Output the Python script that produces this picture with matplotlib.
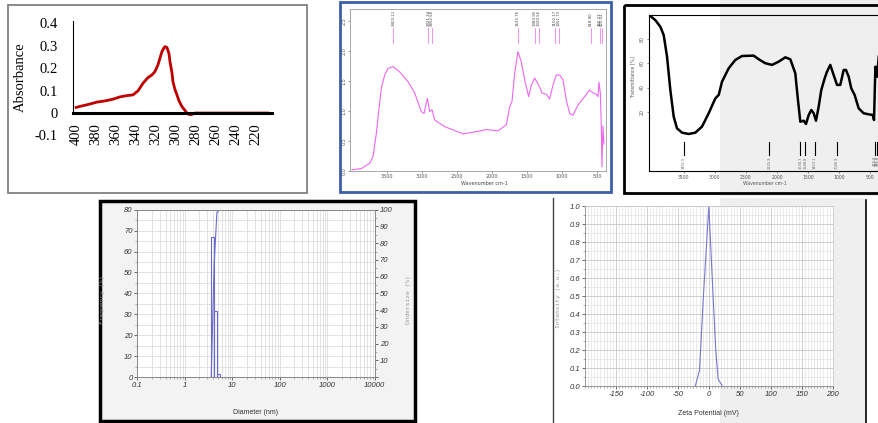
import matplotlib
matplotlib.use('Agg')
import matplotlib.pyplot as plt
import matplotlib.patches as patches
import numpy as np

W, H = 879, 423

# UV-vis absorbance (panel 1)
uv_nm = [400, 395, 389, 384, 379, 374, 369, 363, 356, 350, 343, 338, 333, 328, 324, 321,
         318, 316, 314, 312, 311, 309, 307, 306, 304, 303, 301, 299, 297, 294, 291, 289,
         287, 285, 283, 281, 275, 260, 240, 220, 208]
uv_abs = [0.025, 0.031, 0.037, 0.043, 0.049, 0.052, 0.056, 0.062, 0.072, 0.077, 0.081,
          0.099, 0.133, 0.158, 0.170, 0.185, 0.215, 0.245, 0.274, 0.290, 0.296, 0.292,
          0.265, 0.229, 0.180, 0.140, 0.105, 0.081, 0.055, 0.029, 0.012, 0.0, -0.006,
          -0.008, -0.004, 0.0, 0.0, 0.0, 0.0, 0.0, 0.0]
uv_xticks = [400, 380, 360, 340, 320, 300, 280, 260, 240, 220]
uv_yticks = [0.4, 0.3, 0.2, 0.1, 0, -0.1]
uv_ylabels = ['0.4', '0.3', '0.2', '0.1', '0', '-0.1']

# FTIR absorbance (panel 2)
ir_wn = [4000, 3867, 3747, 3700, 3652, 3628, 3581, 3533, 3486, 3414, 3319, 3200, 3105,
         3010, 2971, 2924, 2890, 2857, 2819, 2676, 2414, 2200, 2081, 1914, 1795, 1748,
         1714, 1676, 1629, 1581, 1533, 1476, 1438, 1390, 1357, 1319, 1286, 1224, 1176,
         1129, 1081, 1033, 986, 938, 890, 843, 771, 676, 605, 557, 510, 486, 471, 452,
         438, 429, 414, 400]
ir_abs = [0.02, 0.04, 0.13, 0.24, 0.63, 0.90, 1.38, 1.60, 1.71, 1.74, 1.65, 1.49, 1.30,
          0.99, 0.96, 1.21, 0.99, 1.02, 0.85, 0.74, 0.62, 0.66, 0.69, 0.67, 0.77, 1.07,
          1.16, 1.63, 1.99, 1.82, 1.52, 1.24, 1.43, 1.55, 1.48, 1.40, 1.30, 1.28, 1.20,
          1.43, 1.60, 1.60, 1.52, 1.18, 0.96, 0.93, 1.10, 1.24, 1.35, 1.30, 1.28, 1.24,
          1.48, 1.30, 0.75, 0.07, 0.75, 0.45]
ir_peaks = [3410, 2910, 2861, 1630, 1386, 1329, 1100, 1043, 590, 457, 433]
ir_peak_labels = ['3400.11', '2921.34', '2852.58', '1633.76', '1384.95', '1320.56',
                  '1102.17', '1051.73', '618.90', '460.77', '425.02']

# FTIR transmittance (panel 3)
tr_wn = [4053, 3957, 3876, 3822, 3768, 3715, 3661, 3608, 3527, 3420, 3313, 3206, 3098,
         2992, 2937, 2884, 2777, 2670, 2563, 2375, 2294, 2188, 2080, 1973, 1866, 1786,
         1706, 1663, 1625, 1571, 1534, 1490, 1448, 1410, 1373, 1330, 1288, 1233, 1196,
         1143, 1089, 1035, 982, 928, 891, 847, 806, 752, 687, 607, 526, 461, 440, 418,
         391, 364]
tr_val = [100, 96, 90.5, 83.6, 65.6, 38, 15.9, 6.2, 2.6, 1.5, 2.6, 7.6, 18.7, 31, 33.9,
          44.9, 56, 62.9, 66.2, 66.5, 63.5, 60.2, 58.8, 61.5, 65.1, 63.5, 51.9, 29.7, 11.7,
          12.5, 9.8, 17.3, 21.4, 18.7, 12.5, 24.1, 38, 47.7, 53.2, 58.8, 50.4, 42.2, 42.2,
          54.6, 54.6, 49, 39.4, 33.9, 22.8, 18.7, 17.8, 17.3, 13.1, 57.3, 49, 65.6]
tr_peaks = [3495, 2124, 1625, 1545, 1394, 1040, 420, 397, 381]
tr_peak_labels = ['3451.5', '2125.9', '1630.3', '1548.8', '1403.1', '1046.9',
                  '419.9', '397.2', '381.0']

# particle size distribution (panel 4)
ps_edges = [3.6, 4.15, 4.75, 5.4]
ps_freq = [66.8, 31.7, 1.6]
ps_cum_x = [3.6, 4.15, 4.75, 5.4, 10000]
ps_cum_y = [0, 66.8, 98.4, 100, 100]

# zeta potential (panel 5)
z_mv = [-22, -15, -9, 0, 7, 11, 15, 22]
z_int = [0, 0.09, 0.49, 1.0, 0.49, 0.21, 0.04, 0]

fig = plt.figure(figsize=(W / 100, H / 100), dpi=100)


def px_axes(l, t, r, b, **kw):
    return fig.add_axes([l / W, 1 - b / H, (r - l) / W, (b - t) / H], **kw)


# background, frames and grey patches in pixel coordinates
bg = fig.add_axes([0, 0, 1, 1], zorder=0)
bg.set_xlim(0, W)
bg.set_ylim(H, 0)
bg.axis('off')
bg.add_patch(patches.Rectangle((720, 0), 160, 196, color='#efefef', lw=0))
bg.add_patch(patches.Rectangle((720, 198), 145, 225, color='#efefef', lw=0))
bg.add_patch(patches.Rectangle((8, 5), 299, 188, fill=False, ec='#777777', lw=1.2))
bg.add_patch(patches.Rectangle((340, 2), 271, 190, fill=False, ec='#3d5ea8', lw=2))
bg.add_patch(patches.Rectangle((624, 5), 262, 188, fill=False, ec='black', lw=2))
bg.add_patch(patches.Rectangle((100, 201), 315, 220, fc='#f3f3f3', ec='black', lw=2.5))
bg.plot([552.7, 552.7], [198, 423], color='#444444', lw=1)
bg.plot([866, 866], [200, 423], color='black', lw=1.2)

# ---- panel 1: UV-vis ----
serif = 'Liberation Serif'
ax1 = px_axes(72.7, 21, 271.7, 135.5, zorder=2)
ax1.plot(uv_nm, uv_abs, color='#c00000', lw=2)
ax1.set_xlim(403.5, 204)
ax1.set_ylim(-0.1, 0.41)
ax1.spines[['top', 'right']].set_visible(False)
ax1.spines['bottom'].set_position(('data', 0))
ax1.spines['bottom'].set_linewidth(2.2)
ax1.spines['left'].set_bounds(0, 0.41)
ax1.set_yticks(uv_yticks)
ax1.set_yticklabels(uv_ylabels, fontfamily=serif, fontsize=10.5)
ax1.set_xticks(uv_xticks)
ax1.set_xticklabels([str(v) for v in uv_xticks], rotation=90, fontfamily=serif, fontsize=10.5)
ax1.tick_params(length=0)
ax1.tick_params(axis='y', pad=11)
ax1.tick_params(axis='x', pad=7)
ax1.set_ylabel('Absorbance', fontfamily=serif, fontsize=10.5)
ax1.yaxis.set_label_coords(-0.231, 0.51)

# ---- panel 2: FTIR absorbance ----
pink = '#ee66ee'
ax2 = px_axes(350, 9, 606, 171, zorder=2)
ax2.plot(ir_wn, ir_abs, color=pink, lw=0.8)
ax2.set_xlim(4029, 371)
ax2.set_ylim(0, 2.7)
for s in ax2.spines.values():
    s.set_color('#999999')
    s.set_linewidth(0.6)
ax2.set_xticks([3500, 3000, 2500, 2000, 1500, 1000, 500])
ax2.set_yticks([0, 0.5, 1.0, 1.5, 2.0, 2.5])
ax2.set_yticklabels(['0.0', '0.5', '1.0', '1.5', '2.0', '2.5'], rotation=90, va='center')
ax2.tick_params(labelsize=3.5, length=1.5, width=0.4, colors='#555555', pad=1)
ax2.set_xlabel('Wavenumber cm-1', fontsize=3.5, color='#444444')
ax2.xaxis.set_label_coords(0.523, -0.06)
for wn, lab in zip(ir_peaks, ir_peak_labels):
    ax2.plot([wn, wn], [2.13, 2.38], color=pink, lw=0.5)
    ax2.text(wn, 2.41, lab, rotation=90, fontsize=2.8, ha='center', va='bottom', color='#444444')

# ---- panel 3: FTIR transmittance ----
ax3 = px_axes(649, 15, 890, 171, zorder=2)
ax3.patch.set_alpha(0)
ax3.plot(tr_wn, tr_val, color='black', lw=1.8)
ax3.set_xlim(4058, 183)
ax3.set_ylim(-29.2, 100.2)
ax3.spines['right'].set_visible(False)
ax3.set_xticks([3500, 3000, 2500, 2000, 1500, 1000, 500])
ax3.set_yticks([20, 40, 60, 80])
ax3.set_yticklabels(['20', '40', '60', '80'], rotation=90, va='center')
ax3.tick_params(labelsize=3.3, length=1.5, width=0.5, colors='#555555', pad=1.5)
ax3.set_xlabel('Wavenumber cm-1', fontsize=3.3, color='#555555')
ax3.xaxis.set_label_coords(0.481, -0.065)
ax3.set_ylabel('Transmittance [%]', fontsize=3.3, color='#555555')
ax3.yaxis.set_label_coords(-0.058, 0.6)
for wn, lab in zip(tr_peaks, tr_peak_labels):
    ax3.plot([wn, wn], [-4.9, -15.9], color='black', lw=0.8)
    ax3.text(wn, -17, lab, rotation=90, fontsize=2.5, ha='center', va='top', color='#666666')

# ---- panel 4: particle size ----
blue = '#6a6acc'
tick_font = dict(fontfamily='Liberation Sans', style='italic', fontsize=5.5)
ax4 = px_axes(137.3, 209.7, 374.7, 377, zorder=2)
ax4.set_xscale('log')
ax4.set_xlim(0.1, 10000)
ax4.set_ylim(0, 80)
ax4.set_yticks(np.arange(0, 81, 10))
ax4.set_yticks(np.arange(0, 81, 5), minor=True)
ax4.grid(which='both', color='#d8d8d8', lw=0.5)
ax4.set_axisbelow(True)
ax4.bar(ps_edges[:-1], ps_freq, width=np.diff(ps_edges), align='edge',
        fill=False, edgecolor=blue, lw=0.8)
for s in ax4.spines.values():
    s.set_color('#888888')
    s.set_linewidth(0.6)
ax4.set_xticks([0.1, 1, 10, 100, 1000, 10000])
ax4.set_xticklabels(['0.1', '1', '10', '100', '1000', '10000'], **tick_font)
ax4.set_yticklabels([str(v) for v in range(0, 81, 10)], **tick_font)
ax4.tick_params(which='major', length=2.5, width=0.5, colors='#333333', pad=1)
ax4.tick_params(which='minor', length=1.2, width=0.4, colors='#777777')
ax4.set_xlabel('Diameter (nm)', fontfamily='Liberation Sans', fontsize=5, color='#333333')
ax4.xaxis.set_label_coords(0.5, -0.19)
ax4.set_ylabel('Frequency (%)', fontfamily='DejaVu Sans Mono', fontsize=4.5, color='#999999')
ax4.yaxis.set_label_coords(-0.137, 0.46)
ax4r = ax4.twinx()
ax4r.set_zorder(3)
ax4r.set_ylim(0, 100)
ax4r.plot(ps_cum_x, ps_cum_y, color=blue, lw=0.8)
ax4r.set_yticks(np.arange(0, 101, 10))
ax4r.set_yticks(np.arange(0, 101, 5), minor=True)
ax4r.set_yticklabels([''] + [str(v) for v in range(10, 101, 10)], **tick_font)
ax4r.tick_params(which='major', length=2.5, width=0.5, colors='#333333', pad=1)
ax4r.tick_params(which='minor', length=1.2, width=0.4, colors='#777777')
for s in ax4r.spines.values():
    s.set_color('#888888')
    s.set_linewidth(0.6)
ax4r.set_ylabel('Undersize (%)', fontfamily='DejaVu Sans Mono', fontsize=4.5, color='#999999')
ax4r.yaxis.set_label_coords(1.133, 0.46)

# ---- panel 5: zeta potential ----
ax5 = px_axes(585, 206.3, 832.7, 386.3, zorder=2)
ax5.set_xlim(-200, 200)
ax5.set_ylim(0, 1)
ax5.set_xticks(np.arange(-150, 201, 50))
ax5.set_xticks(np.arange(-200, 201, 5), minor=True)
ax5.set_yticks(np.arange(0, 1.01, 0.1))
ax5.set_yticks(np.arange(0, 1.01, 0.05), minor=True)
ax5.grid(which='minor', color='#e2e2e2', lw=0.5)
ax5.grid(which='major', color='#c8c8c8', lw=0.6)
ax5.set_axisbelow(True)
ax5.plot(z_mv, z_int, color='#7777cc', lw=0.8)
for s in ax5.spines.values():
    s.set_color('#888888')
    s.set_linewidth(0.6)
ax5.spines['top'].set_color('#cccccc')
ax5.spines['right'].set_color('#cccccc')
ax5.set_xticklabels([str(v) for v in range(-150, 201, 50)], **tick_font)
ax5.set_yticklabels(['%.1f' % v for v in np.arange(0, 1.01, 0.1)], **tick_font)
ax5.tick_params(which='major', length=2.5, width=0.5, colors='#333333', pad=1)
ax5.tick_params(which='minor', length=1.3, width=0.4, colors='#777777')
ax5.set_xlabel('Zeta Potential (mV)', fontfamily='Liberation Sans', fontsize=5, color='#333333')
ax5.xaxis.set_label_coords(0.5, -0.133)
ax5.set_ylabel('Intensity (a.u.)', fontfamily='DejaVu Sans Mono', fontsize=4.5, color='#999999')
ax5.yaxis.set_label_coords(-0.098, 0.49)

fig.savefig('out.png', dpi=100)
